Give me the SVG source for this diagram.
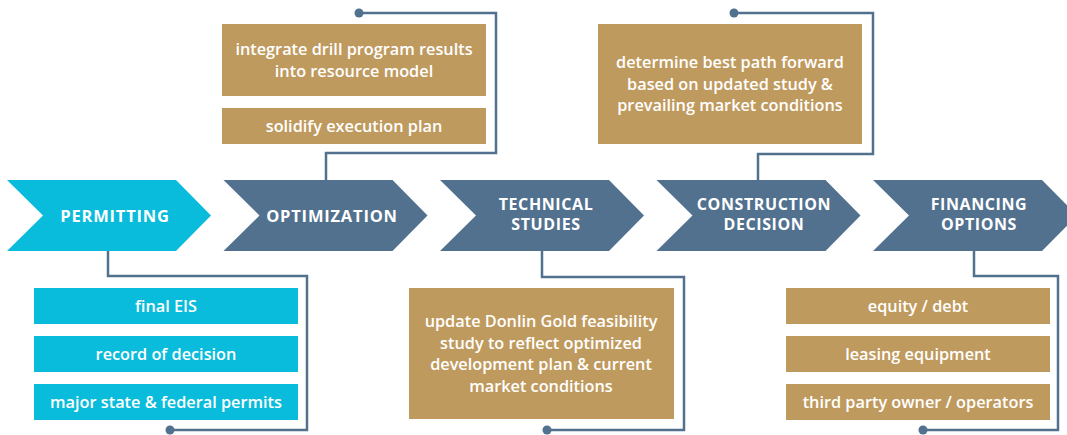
<svg xmlns="http://www.w3.org/2000/svg" width="1067" height="435" viewBox="0 0 1067 435">
<defs>
<style>
.chev-c{fill:#09bcdb}
.chev-s{fill:#51718f}
.box-c{fill:#09bcdb}
.box-g{fill:#bf9a5e}
.lbl{font-family:"Open Sans","Noto Sans",sans-serif;font-weight:700;font-size:16.5px;fill:#fff;text-anchor:middle;letter-spacing:0.8px}
.lbl2{font-size:16px;letter-spacing:0.6px}
.txt{font-family:"Open Sans","Noto Sans",sans-serif;font-weight:600;font-size:16.3px;fill:#fff;text-anchor:middle}
.conn{fill:none;stroke:#51718f;stroke-width:2.5}
.dot{fill:#51718f}
</style>
<path id="chev" d="M0,0 H169 L204,35.5 L169,71 H0 L36,35.5 Z"/>
</defs>
<g id="connectors">
<path class="conn" d="M108,251 V276 H307 V430 H170"/>
<circle class="dot" cx="170" cy="430" r="4.5"/>
<path class="conn" d="M326,180 V153 H496 V13 H359"/>
<circle class="dot" cx="359" cy="13" r="4.5"/>
<path class="conn" d="M542,251 V277 H684 V430 H547"/>
<circle class="dot" cx="547" cy="430" r="4.5"/>
<path class="conn" d="M758,180 V154 H873 V13 H734"/>
<circle class="dot" cx="734" cy="13" r="4.5"/>
<path class="conn" d="M974,251 V276 H1058 V430 H923"/>
<circle class="dot" cx="923" cy="430" r="4.5"/>
</g>
<g id="permitting">
<use href="#chev" class="chev-c" x="7" y="180"/>
<text class="lbl" x="115" y="221.5">PERMITTING</text>
</g>
<g id="optimization">
<use href="#chev" class="chev-s" x="223.5" y="180"/>
<text class="lbl" x="332" y="221.5">OPTIMIZATION</text>
</g>
<g id="technical-studies">
<use href="#chev" class="chev-s" x="440" y="180"/>
<text class="lbl lbl2" x="546" y="210">TECHNICAL</text>
<text class="lbl lbl2" x="546" y="230">STUDIES</text>
</g>
<g id="construction-decision">
<use href="#chev" class="chev-s" x="656.5" y="180"/>
<text class="lbl lbl2" x="764" y="210">CONSTRUCTION</text>
<text class="lbl lbl2" x="764" y="230">DECISION</text>
</g>
<g id="financing-options">
<use href="#chev" class="chev-s" x="873" y="180"/>
<text class="lbl lbl2" x="979" y="210">FINANCING</text>
<text class="lbl lbl2" x="979" y="230">OPTIONS</text>
</g>
<g id="final-eis">
<rect class="box-c" x="34" y="288" width="264" height="36"/>
<text class="txt" x="166" y="311.5">final EIS</text>
</g>
<g id="record-of-decision">
<rect class="box-c" x="34" y="336" width="264" height="36"/>
<text class="txt" x="166" y="359.5">record of decision</text>
</g>
<g id="major-permits">
<rect class="box-c" x="34" y="384" width="264" height="36"/>
<text class="txt" x="166" y="407.5">major state &amp; federal permits</text>
</g>
<g id="integrate-drill">
<rect class="box-g" x="222" y="24" width="264" height="72"/>
<text class="txt" x="354" y="55">integrate drill program results</text>
<text class="txt" x="354" y="76.5">into resource model</text>
</g>
<g id="solidify-plan">
<rect class="box-g" x="222" y="108" width="264" height="36"/>
<text class="txt" x="354" y="131.5">solidify execution plan</text>
</g>
<g id="update-feasibility">
<rect class="box-g" x="409" y="288" width="265" height="131"/>
<text class="txt" x="541" y="327">update Donlin Gold feasibility</text>
<text class="txt" x="541" y="348.5">study to reflect optimized</text>
<text class="txt" x="541" y="370">development plan &amp; current</text>
<text class="txt" x="541" y="391.5">market conditions</text>
</g>
<g id="determine-path">
<rect class="box-g" x="598" y="24" width="264" height="120"/>
<text class="txt" x="730" y="68">determine best path forward</text>
<text class="txt" x="730" y="89.5">based on updated study &amp;</text>
<text class="txt" x="730" y="111">prevailing market conditions</text>
</g>
<g id="equity-debt">
<rect class="box-g" x="786" y="288" width="264" height="36"/>
<text class="txt" x="918" y="311.5">equity / debt</text>
</g>
<g id="leasing">
<rect class="box-g" x="786" y="336" width="264" height="36"/>
<text class="txt" x="918" y="359.5">leasing equipment</text>
</g>
<g id="third-party">
<rect class="box-g" x="786" y="384" width="264" height="36"/>
<text class="txt" x="918" y="407.5">third party owner / operators</text>
</g>
</svg>
